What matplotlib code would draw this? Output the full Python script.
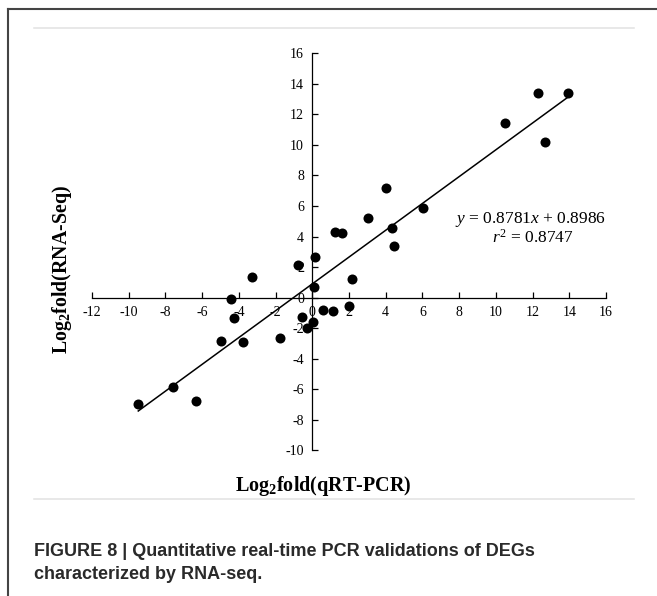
import matplotlib
matplotlib.use("Agg")
import matplotlib.pyplot as plt
from matplotlib.lines import Line2D

# Log2 fold changes
qpcr = [3.05, 1.22, 1.62, 0.15, -0.76, -3.28, 2.16, 0.11, -4.41, 1.98,
        0.58, 1.13, 4.03, 6.05, 4.36, 4.47, 10.51, 12.29, 13.93, 12.66,
        -4.28, -0.58, 0.05, -0.31, -4.96, -3.79, -1.78, -7.57, -6.32, -9.48]
rnaseq = [5.24, 4.32, 4.21, 2.64, 2.14, 1.37, 1.22, 0.72, -0.09, -0.55,
          -0.79, -0.85, 7.20, 5.89, 4.56, 3.38, 11.43, 13.42, 13.42, 10.21,
          -1.35, -1.24, -1.57, -2.01, -2.84, -2.92, -2.62, -5.85, -6.78, -6.96]

slope = 0.8781
intercept = 0.8986
r2 = 0.8747

xticks = list(range(-12, 17, 2))
yticks = list(range(-10, 17, 2))

plt.rcParams['font.family'] = 'Liberation Serif'
plt.rcParams['axes.unicode_minus'] = False
plt.rcParams['mathtext.fontset'] = 'custom'
plt.rcParams['mathtext.rm'] = 'Liberation Serif'
plt.rcParams['mathtext.it'] = 'Liberation Serif:italic'
plt.rcParams['mathtext.bf'] = 'Liberation Serif:bold'

W, H = 657, 596
fig = plt.figure(figsize=(W / 100, H / 100), dpi=100)
ax = fig.add_axes([92 / W, 1 - 450.3 / H, (606 - 92) / W, (450.3 - 53.3) / H])

ax.scatter(qpcr, rnaseq, s=52, color='black', zorder=3, linewidths=0)
x0, x1 = min(qpcr), max(qpcr)
ax.plot([x0, x1], [slope * x0 + intercept, slope * x1 + intercept],
        color='black', lw=1.1)

ax.set_xlim(-12, 16)
ax.set_ylim(-10, 16)
ax.set_xticks(xticks)
ax.set_yticks(yticks)
ax.spines['left'].set_position(('data', 0))
ax.spines['bottom'].set_position(('data', 0))
ax.spines['top'].set_visible(False)
ax.spines['right'].set_visible(False)
for s in ('left', 'bottom'):
    ax.spines[s].set_linewidth(0.9)
ax.tick_params(direction='in', length=4, width=0.9, labelsize=10, pad=6)

ax.text(11.91, 4.91, r'$y$ = 0.8781$x$ + 0.8986', ha='center', va='baseline',
        fontsize=12.5)
ax.text(12.02, 3.6, r'$r^2$ = 0.8747', ha='center', va='baseline', fontsize=12.5)

fig.text(62 / W, 1 - 270 / H, r'Log$_{\mathbf{2}}$fold(RNA-Seq)', rotation=90,
         ha='center', va='center', fontsize=14.3, fontweight='bold')
fig.text(323 / W, 1 - 486 / H, r'Log$_{\mathbf{2}}$fold(qRT-PCR)',
         ha='center', va='center', fontsize=14.5, fontweight='bold')

# page frame and rules
fig.add_artist(Line2D([8 / W, 8 / W], [0, 1 - 9 / H], color='#444444', lw=1.5))
fig.add_artist(Line2D([8 / W, 1], [1 - 9 / H, 1 - 9 / H], color='#444444', lw=1.5))
for yy in (28, 499):
    fig.add_artist(Line2D([34 / W, 634 / W], [1 - yy / H, 1 - yy / H],
                          color='#e2e2e2', lw=1.1))

cap = dict(family='Liberation Sans', fontweight='bold', fontsize=13,
           color='#2a2a2a', va='baseline', ha='left')
fig.text(34 / W, 1 - 556 / H,
         'FIGURE 8 | Quantitative real-time PCR validations of DEGs', **cap)
fig.text(34 / W, 1 - 579 / H, 'characterized by RNA-seq.', **cap)

fig.savefig('out.png', dpi=100)
